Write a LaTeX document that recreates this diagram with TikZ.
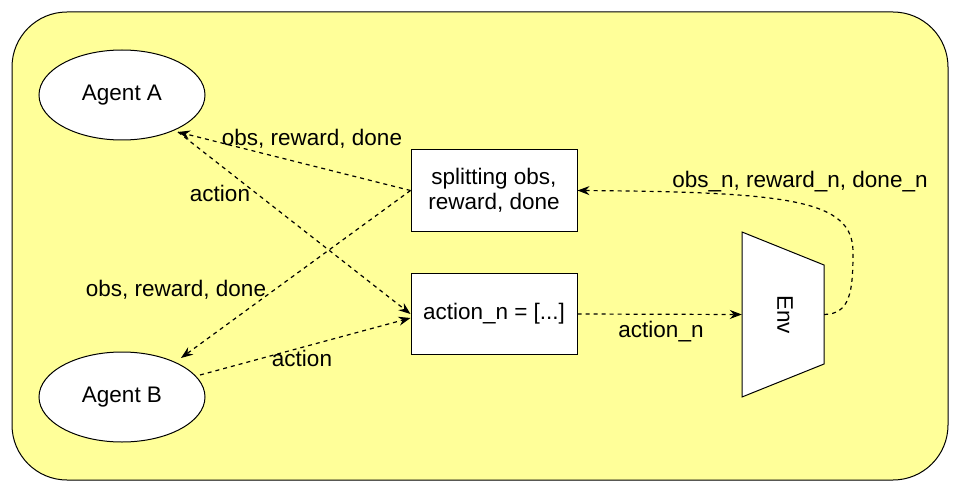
\documentclass[tikz,border=0pt]{standalone}
\usepackage{fontspec}
\setmainfont{Liberation Sans}
\usetikzlibrary{arrows.meta,shapes.geometric}
\definecolor{bgyellow}{HTML}{FFFF99}
\tikzset{
  lbl/.style={inner sep=0pt, font=\fontsize{22.5}{27}\selectfont},
  agent/.style={draw, fill=white, ellipse, line width=1pt, minimum width=166pt, minimum height=90pt, inner sep=0pt, font=\fontsize{22.5}{27}\selectfont},
  boxnode/.style={draw, fill=white, line width=1pt, minimum width=166pt, minimum height=81pt, inner sep=0pt, align=center, font=\fontsize{22.5}{27}\selectfont},
  conn/.style={line width=1.2pt, dash pattern=on 4pt off 4pt, -{Stealth[length=12pt,width=9pt,inset=4pt]}},
}
\begin{document}
\begin{tikzpicture}[x=1pt,y=-1pt]
\useasboundingbox (0,0) rectangle (961,492);
\draw[fill=bgyellow, line width=1pt, rounded corners=55pt] (12,12) rectangle (948,480);

\node[agent] (a) at (122,95) {\raisebox{-1.5pt}{Agent A}};
\node[agent] (b) at (122,397) {\raisebox{-1.5pt}{Agent B}};
\node[boxnode] (split) at (494,190.5) {\raisebox{-1.5pt}{\shortstack{splitting obs,\\[1pt]reward, done}}};
\node[boxnode] (act) at (494,314) {\raisebox{-1.5pt}{action\_n = [...]}};

\draw[fill=white, line width=1pt] (742,232) -- (824,265) -- (824,364) -- (742,397) -- cycle;
\node[minimum width=82pt, minimum height=165pt, inner sep=0pt] (env) at (783,314.5) {};
\node[lbl, rotate=-90] (envt) at (785,314.5) {Env};

\coordinate (aS) at (178,132);
\coordinate (bN) at (181,358);
\coordinate (bE) at (200,375);

\draw[conn] (split.west) -- (aS);
\draw[conn] (split.west) -- (bN);
\draw[conn] (aS) -- (act.west);
\draw[conn] (bE) -- ([yshift=-4pt]act.west);
\draw[conn] (act.east) -- (env.west);
\draw[conn] (env.east) .. controls (850,314) and (853,292) .. (853,252) .. controls (853,200) and (790,192) .. (split.east);

\node[lbl] (l1) at (312,138.5) {obs, reward, done};
\node[lbl] (l2) at (176,289.5) {obs, reward, done};
\node[lbl] (l3) at (220,193.5) {action};
\node[lbl] (l4) at (302,358.5) {action};
\node[lbl] (l5) at (661,331.5) {action\_n};
\node[lbl] (l6) at (800,181.5) {obs\_n, reward\_n, done\_n};
\end{tikzpicture}
\end{document}
